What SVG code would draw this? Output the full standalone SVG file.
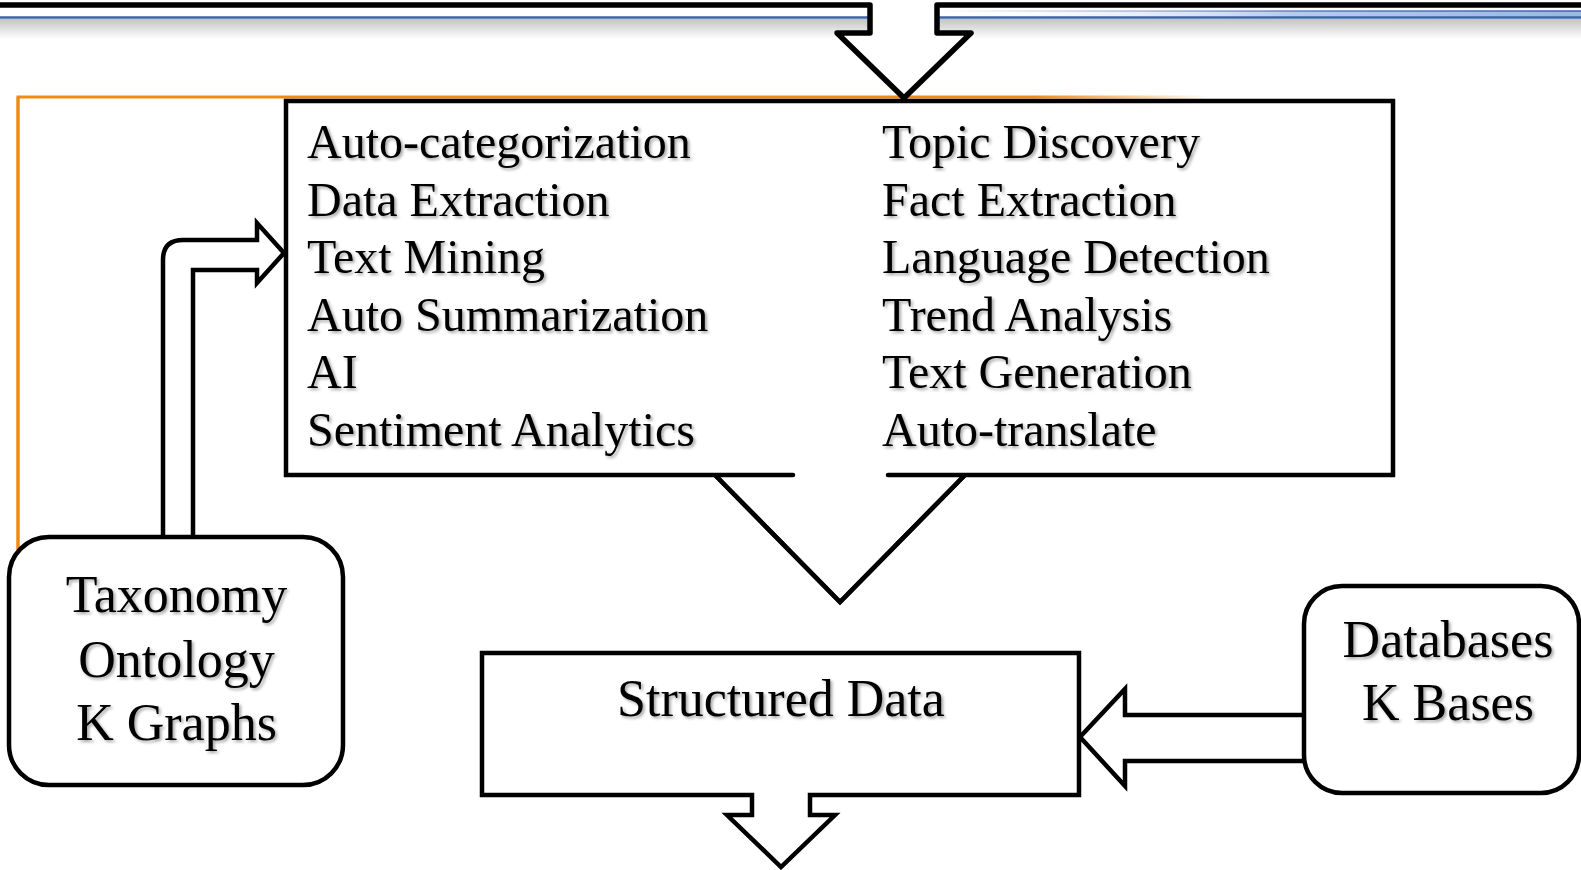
<svg xmlns="http://www.w3.org/2000/svg" width="1581" height="870" viewBox="0 0 1581 870">
<defs>
<linearGradient id="shade" x1="0" y1="0" x2="0" y2="1">
<stop offset="0" stop-color="#c4c4c4"/>
<stop offset="1" stop-color="#ffffff"/>
</linearGradient>
<linearGradient id="blueband" x1="937" y1="0" x2="1581" y2="0" gradientUnits="userSpaceOnUse">
<stop offset="0" stop-color="#ffffff" stop-opacity="0"/>
<stop offset="0.55" stop-color="#b7cbec"/>
<stop offset="1" stop-color="#9db6e2"/>
</linearGradient>
<linearGradient id="blueline2" x1="937" y1="0" x2="1581" y2="0" gradientUnits="userSpaceOnUse">
<stop offset="0" stop-color="#3a64ad" stop-opacity="0"/>
<stop offset="0.6" stop-color="#3a64ad" stop-opacity="0.8"/>
<stop offset="1" stop-color="#3a64ad"/>
</linearGradient>
<linearGradient id="orangefade" x1="18" y1="0" x2="1210" y2="0" gradientUnits="userSpaceOnUse">
<stop offset="0" stop-color="#f28a10"/>
<stop offset="0.85" stop-color="#f28a10"/>
<stop offset="1" stop-color="#f28a10" stop-opacity="0"/>
</linearGradient>
<filter id="tshadow" x="-5%" y="-20%" width="110%" height="140%">
<feDropShadow dx="2" dy="2" stdDeviation="1.5" flood-color="#000" flood-opacity="0.35"/>
</filter>
<style>
.ln{fill:none;stroke:#000;stroke-width:4.5}
.box{fill:#fff;stroke:#000;stroke-width:4.5}
.t{font-family:"Liberation Serif","Times New Roman",serif;fill:#000;filter:url(#tshadow)}
.list{font-size:48px}
.lab{font-size:52px;text-anchor:middle}
</style>
</defs>

<g id="background">
<rect x="0" y="19" width="1581" height="20" fill="url(#shade)"/>
<rect x="937" y="11" width="644" height="6" fill="url(#blueband)"/>
<line x1="0" y1="17.5" x2="1581" y2="17.5" stroke="#3a64ad" stroke-width="2.5"/>
<line x1="937" y1="11" x2="1581" y2="11" stroke="url(#blueline2)" stroke-width="1.5"/>
<path d="M18,550 V97 H1210" fill="none" stroke="url(#orangefade)" stroke-width="3"/>
<path d="M18,550 V97" fill="none" stroke="#f28a10" stroke-width="3"/>
</g>

<g id="connectors">
<path d="M870,3 V33 H837 L904,98 L971,33 H937 V3 Z" fill="#fff"/>
<path d="M0,5 H870 V33 H837 L904,98 L971,33 H937 V5 H1581" fill="none" stroke="#000" stroke-width="5.5" stroke-linejoin="round"/>
<path class="box" d="M163,537 V260 Q163,240 183,240 H257 V223 L284,253 L257,283 V270 H193 V537"/>
<path class="ln" d="M715,475 L840,602 L965,475"/>
<path class="box" d="M1304,715 H1125 V689 L1080,737 L1125,786 V761 H1304"/>
</g>

<g id="main">
<rect x="286" y="101" width="1107" height="374" fill="#fff"/>
<path class="ln" d="M793,475 H286 V101 H1393 V475 H888" stroke-linecap="round"/>
<path d="M715,475 L840,602 L965,475" fill="none" stroke="#000" stroke-width="4.5"/>
<g class="t list">
<text x="307" y="158">Auto-categorization</text>
<text x="307" y="215.5">Data Extraction</text>
<text x="307" y="273">Text Mining</text>
<text x="307" y="330.5">Auto Summarization</text>
<text x="307" y="388">AI</text>
<text x="307" y="445.5">Sentiment Analytics</text>
<text x="882" y="158">Topic Discovery</text>
<text x="882" y="215.5">Fact Extraction</text>
<text x="882" y="273">Language Detection</text>
<text x="882" y="330.5">Trend Analysis</text>
<text x="882" y="388">Text Generation</text>
<text x="882" y="445.5">Auto-translate</text>
</g>
</g>

<g id="taxonomy">
<rect class="box" x="9" y="537" width="334" height="248" rx="40"/>
<g class="t lab">
<text x="176.5" y="612">Taxonomy</text>
<text x="176.5" y="677">Ontology</text>
<text x="176.5" y="740">K Graphs</text>
</g>
</g>

<g id="structured">
<path class="box" d="M482,653 H1079 V795 H810 V815 H835 L781,867 L727,815 H752 V795 H482 Z"/>
<text class="t lab" x="781" y="716">Structured Data</text>
</g>

<g id="databases">
<rect class="box" x="1304" y="586" width="275" height="207" rx="38"/>
<g class="t lab">
<text x="1448" y="657">Databases</text>
<text x="1448" y="720">K Bases</text>
</g>
</g>
</svg>
